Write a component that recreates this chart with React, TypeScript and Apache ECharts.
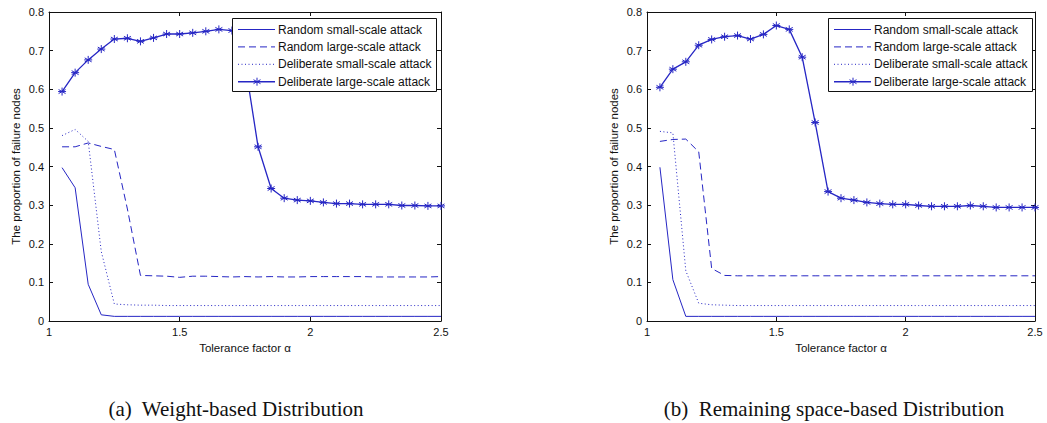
import React, { useEffect, useRef } from "react";
import * as echarts from "echarts";

// Tolerance factor values (x)
const xs = [1.05, 1.1, 1.15, 1.2, 1.25, 1.3, 1.35, 1.4, 1.45, 1.5, 1.55, 1.6, 1.65, 1.7, 1.75, 1.8, 1.85, 1.9, 1.95, 2.0, 2.05, 2.1, 2.15, 2.2, 2.25, 2.3, 2.35, 2.4, 2.45, 2.5];

const seriesNames = [
  "Random small-scale attack",
  "Random large-scale attack",
  "Deliberate small-scale attack",
  "Deliberate large-scale attack",
];

// (a) Weight-based Distribution
const randSmallA = [0.397, 0.345, 0.095, 0.016, 0.012, 0.012, 0.012, 0.012, 0.012, 0.012, 0.012, 0.012, 0.012, 0.012, 0.012, 0.012, 0.012, 0.012, 0.012, 0.012, 0.012, 0.012, 0.012, 0.012, 0.012, 0.012, 0.012, 0.012, 0.012, 0.012];
const randLargeA = [0.451, 0.451, 0.461, 0.452, 0.444, 0.29, 0.118, 0.117, 0.116, 0.113, 0.116, 0.116, 0.115, 0.114, 0.115, 0.114, 0.115, 0.114, 0.114, 0.115, 0.115, 0.115, 0.115, 0.115, 0.114, 0.114, 0.114, 0.114, 0.114, 0.115];
const delSmallA = [0.48, 0.496, 0.465, 0.18, 0.044, 0.042, 0.041, 0.041, 0.04, 0.04, 0.04, 0.04, 0.04, 0.04, 0.04, 0.04, 0.04, 0.04, 0.04, 0.04, 0.04, 0.04, 0.04, 0.04, 0.04, 0.04, 0.04, 0.04, 0.04, 0.04];
const delLargeA = [0.594, 0.643, 0.676, 0.704, 0.73, 0.732, 0.724, 0.733, 0.743, 0.743, 0.746, 0.75, 0.755, 0.752, 0.668, 0.451, 0.343, 0.318, 0.313, 0.311, 0.307, 0.304, 0.304, 0.302, 0.302, 0.302, 0.299, 0.299, 0.298, 0.298];

// (b) Remaining space-based Distribution
const randSmallB = [0.398, 0.107, 0.012, 0.012, 0.012, 0.012, 0.012, 0.012, 0.012, 0.012, 0.012, 0.012, 0.012, 0.012, 0.012, 0.012, 0.012, 0.012, 0.012, 0.012, 0.012, 0.012, 0.012, 0.012, 0.012, 0.012, 0.012, 0.012, 0.012, 0.012];
const randLargeB = [0.465, 0.47, 0.471, 0.438, 0.136, 0.118, 0.117, 0.117, 0.117, 0.117, 0.117, 0.117, 0.117, 0.117, 0.117, 0.117, 0.117, 0.117, 0.117, 0.117, 0.117, 0.117, 0.117, 0.117, 0.117, 0.117, 0.117, 0.117, 0.117, 0.117];
const delSmallB = [0.491, 0.487, 0.13, 0.046, 0.042, 0.041, 0.04, 0.04, 0.04, 0.04, 0.04, 0.04, 0.04, 0.04, 0.04, 0.04, 0.04, 0.04, 0.04, 0.04, 0.04, 0.04, 0.04, 0.04, 0.04, 0.04, 0.04, 0.04, 0.04, 0.04];
const delLargeB = [0.605, 0.652, 0.671, 0.714, 0.729, 0.736, 0.739, 0.73, 0.742, 0.765, 0.755, 0.683, 0.514, 0.335, 0.318, 0.313, 0.307, 0.304, 0.302, 0.302, 0.299, 0.297, 0.297, 0.297, 0.299, 0.297, 0.294, 0.294, 0.294, 0.294];

const captions = ["(a)  Weight-based Distribution", "(b)  Remaining space-based Distribution"];
const xAxisTitle = "Tolerance factor α";
const yAxisTitle = "The proportion of failure nodes";

const BLUE = "#2626c4";
const AXIS = "#111";
const SANS = "'Liberation Sans', Arial, sans-serif";
const SERIF = "'Liberation Serif', 'Times New Roman', serif";
const STAR = "path://M0,-6L0,6M-5.2,-3L5.2,3M-5.2,3L5.2,-3M-6,0L6,0";

const panels = [
  { left: 49, right: 606, legendX: 232, captionX: 236, data: [randSmallA, randLargeA, delSmallA, delLargeA], caption: captions[0] },
  { left: 647, right: 12, legendX: 828, captionX: 834, data: [randSmallB, randLargeB, delSmallB, delLargeB], caption: captions[1] },
];

function pairs(arr: number[]) {
  return xs.map((x, i) => [x, arr[i]]);
}

function buildLegend(x: number) {
  const rows = [0, 1, 2, 3];
  const Z = 100;
  const children: any[] = [
    { type: "rect", z: Z, shape: { x: 0.5, y: 0.5, width: 204, height: 73 }, style: { fill: "#fff", stroke: AXIS, lineWidth: 1 } },
  ];
  rows.forEach((r) => {
    const cy = 11.5 + r * 17.4;
    const dash = r === 1 ? [7, 4] : r === 2 ? [1, 2.5] : null;
    children.push({
      type: "line",
      z: Z + 1,
      shape: { x1: 6, y1: cy, x2: 43, y2: cy },
      style: { stroke: BLUE, lineWidth: r === 3 ? 1.5 : 1, lineDash: dash },
    });
    if (r === 3) {
      const c = 25;
      children.push({ type: "line", z: Z + 2, shape: { x1: c, y1: cy - 4, x2: c, y2: cy + 4 }, style: { stroke: BLUE, lineWidth: 1 } });
      children.push({ type: "line", z: Z + 2, shape: { x1: c - 3.5, y1: cy - 2, x2: c + 3.5, y2: cy + 2 }, style: { stroke: BLUE, lineWidth: 1 } });
      children.push({ type: "line", z: Z + 2, shape: { x1: c - 3.5, y1: cy + 2, x2: c + 3.5, y2: cy - 2 }, style: { stroke: BLUE, lineWidth: 1 } });
    }
    children.push({
      type: "text",
      z: Z + 1,
      x: 46,
      y: cy,
      style: { text: seriesNames[r], fontFamily: SANS, fontSize: 12, fill: "#111", textVerticalAlign: "middle", textAlign: "left" },
    });
  });
  return { type: "group", x, y: 18, z: Z, children };
}

export default function App() {
  const ref = useRef<HTMLDivElement>(null);
  useEffect(() => {
    if (!ref.current) return;
    const chart = echarts.init(ref.current, null, { renderer: "svg" });
    const grid: any[] = [];
    const xAxis: any[] = [];
    const yAxis: any[] = [];
    const series: any[] = [];
    const graphic: any[] = [];
    panels.forEach((p, gi) => {
      grid.push({ left: p.left, right: p.right, top: 12, height: 309 });
      const axisCommon = {
        gridIndex: gi,
        type: "value",
        axisLine: { show: true, onZero: false, lineStyle: { color: AXIS, width: 1 } },
        axisTick: { show: true, inside: true, length: 4, lineStyle: { color: AXIS } },
        splitLine: { show: false },
      };
      xAxis.push({
        ...axisCommon,
        position: "bottom",
        min: 1,
        max: 2.5,
        interval: 0.5,
        axisLabel: { fontFamily: SANS, fontSize: 11, color: "#111", margin: 5 },
        name: xAxisTitle,
        nameLocation: "middle",
        nameGap: 19,
        nameTextStyle: { fontFamily: SANS, fontSize: 11.5, color: "#111" },
      });
      xAxis.push({ ...axisCommon, position: "top", min: 1, max: 2.5, interval: 0.5, axisLabel: { show: false } });
      yAxis.push({
        ...axisCommon,
        position: "left",
        min: 0,
        max: 0.8,
        interval: 0.1,
        axisLabel: { fontFamily: SANS, fontSize: 11, color: "#111", margin: 5 },
        name: yAxisTitle,
        nameLocation: "middle",
        nameGap: 27,
        nameTextStyle: { fontFamily: SANS, fontSize: 11.5, color: "#111" },
      });
      yAxis.push({ ...axisCommon, position: "right", min: 0, max: 0.8, interval: 0.1, axisLabel: { show: false } });
      p.data.forEach((arr, si) => {
        const isStar = si === 3;
        series.push({
          type: "line",
          name: seriesNames[si],
          xAxisIndex: gi * 2,
          yAxisIndex: gi * 2,
          data: pairs(arr),
          symbol: isStar ? STAR : "none",
          symbolSize: 8,
          showSymbol: isStar,
          itemStyle: { color: BLUE, borderColor: BLUE, borderWidth: 1 },
          lineStyle: {
            color: BLUE,
            width: isStar ? 1.3 : 1,
            type: si === 1 ? [7, 4] : si === 2 ? [1, 2.5] : "solid",
          },
          emphasis: { disabled: true },
          clip: false,
          z: 2 + si,
        });
      });
      graphic.push(buildLegend(p.legendX));
      graphic.push({
        type: "text",
        x: p.captionX,
        y: 409,
        style: { text: p.caption, fontFamily: SERIF, fontSize: 21, fill: "#111", textAlign: "center", textVerticalAlign: "middle" },
      });
    });
    chart.setOption({
      animation: false,
      backgroundColor: "#fff",
      grid,
      xAxis,
      yAxis,
      series,
      graphic,
    });
    return () => chart.dispose();
  }, []);
  return <div ref={ref} style={{ position: "fixed", left: 0, top: 0, width: 1047, height: 423 }} />;
}
